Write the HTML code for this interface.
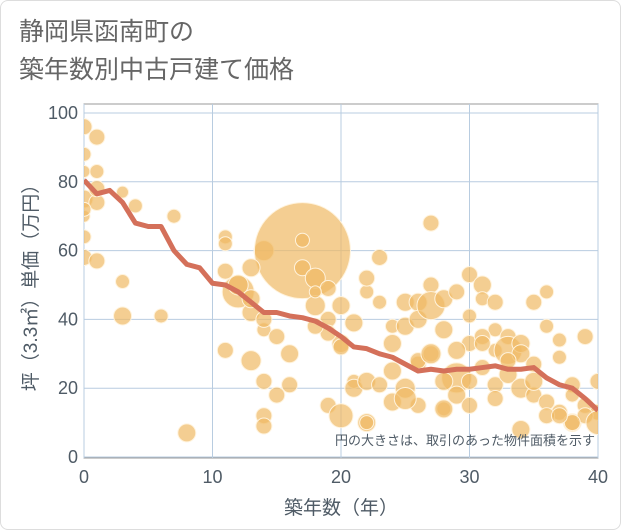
<!DOCTYPE html>
<html><head><meta charset="utf-8"><style>
body{margin:0;background:#fff}
#wrap{position:relative;width:619px;height:528px;border:1px solid #ddd;border-radius:8px;background:#fff;overflow:hidden;font-family:"Liberation Sans","Noto Sans CJK JP",sans-serif}
#title{position:absolute;left:18px;top:12px;font-size:25px;line-height:38px;color:#666}
</style></head><body>
<div id="wrap">
<div id="title">静岡県函南町の<br>築年数別中古戸建て価格</div>
<svg id="chart" width="619" height="528" style="position:absolute;left:0;top:0"></svg>
</div>
<script>
const xTicks=[0,10,20,30,40];
const yTicks=[0,20,40,60,80,100];
const trendYears=[0,1,2,3,4,5,6,7,8,9,10,11,12,13,14,15,16,17,18,19,20,21,22,23,24,25,26,27,28,29,30,31,32,33,34,35,36,37,38,39,40];
const trendValues=[80.5,76.5,77.5,74,68,67,67,60,56,55,50.5,50,48,45,42,42,41,40.5,39.5,37.5,35,32,31.5,30,29,27,25,25.5,25,25.5,25.5,26,26.5,25.5,25.5,26,23,21,20,17,13.5];
const bubbleX=[0,0,0,0,0,0,0,1,1,1,0,1,3,4,7,1,3,6,3,11,11,11,11,12,13,13,14,14,17,17,17,18,18,19,18,19,20,20,21,21,22,22,23,23,24,24,25,25,26,26,26,27,27,27,28,28,29,29,30,30,30,31,31,32,32,32,33,33,34,34,35,35,36,36,37,37,38,38,39,39,40,40,12,13,14,15,16,16,14,14,15,19,19,20,21,22,23,24,25,26,27,28,29,30,31,32,33,34,35,36,37,38,39,40,8,14,20,22,24,26,28,30,32,34,36,38,25,27,29,31,33,35,37,13,18,22,28,31];
const bubbleY=[96,88,83,75,70,64,58,93,83,74,72,57,51,73,70,78,41,41,77,64,62,54,31,48,42,28,60,37,60,63,55,52,44,49,48,40,44,33,39,22,48,52,58,45,33,38,38,45,45,27,40,50,44,68,37,46,48,23,53,41,33,50,46,45,37,31,35,31,33,30,45,27,48,38,34,29,21,18,35,15,22,13,50,46,40,35,30,21,22,12,18,15,36,32,20,22,21,25,20,28,30,14,18,22,26,21,24,20,18,16,13,10,12,10,7,9,12,10,16,15,14,15,17,8,12,10,17,30,31,35,28,22,12,55,38,10,22,33];
const bubbleR=[8,7,6,9,6,7,8,8,7,8,7,8,7,7,7,8,9,7,6,7,7,8,8,16,9,10,10,7,48,7,8,10,10,8,6,8,9,9,9,7,7,8,8,7,9,7,9,9,9,8,9,8,14,8,9,9,8,15,8,7,8,9,7,8,7,7,8,14,9,9,8,8,7,7,7,7,8,7,8,8,8,8,10,9,8,8,9,8,8,8,8,8,8,8,9,9,8,9,10,8,8,7,9,8,8,8,9,10,8,8,8,9,8,12,9,8,12,9,9,8,9,8,8,9,8,8,11,10,9,8,8,9,8,9,8,7,9,8];
const svg=document.getElementById('chart');
const NS='http://www.w3.org/2000/svg';
const L=83,R=597,T=103,B=457;
const sx=v=>L+v*(R-L)/40;
const sy=v=>456-v*3.44;
function mk(t,a,p){const e=document.createElementNS(NS,t);for(const k in a)e.setAttribute(k,a[k]);(p||svg).appendChild(e);return e;}
let e;
e=mk('rect',{x:L,y:T,width:R-L,height:B-T,fill:'#fff',stroke:'#999','stroke-width':1});


xTicks.forEach(v=>{
 e=mk('line',{x1:sx(v),x2:sx(v),y1:T,y2:B,stroke:'#b8cce0','stroke-width':1});
 
 
 e=mk('text',{x:sx(v),y:482,'text-anchor':'middle','font-size':18,fill:'#4f5b66'});
 e.textContent=v;
 
 
});
yTicks.forEach(v=>{
 e=mk('line',{x1:L,x2:R,y1:sy(v),y2:sy(v),stroke:'#b8cce0','stroke-width':1});
 
 
 e=mk('text',{x:77,y:sy(v)+6,'text-anchor':'end','font-size':18,fill:'#4f5b66'});
 e.textContent=v;
 
 
});
const clip=mk('clipPath',{id:'pc'});mk('rect',{x:L,y:T,width:R-L,height:B-T},clip);
const g=mk('g',{'clip-path':'url(#pc)'});


bubbleX.forEach((x,i)=>{
 e=mk('circle',{cx:sx(x),cy:sy(bubbleY[i]),r:bubbleR[i],fill:'rgba(240,185,100,0.7)',stroke:'#fff3dd','stroke-width':1},g);
 
 
});
e=mk('polyline',{points:trendYears.map((x,i)=>sx(x)+','+sy(trendValues[i])).join(' '),fill:'none',stroke:'#d4705a','stroke-width':5,'stroke-linejoin':'round'},g);


e=mk('text',{x:594,y:444,'text-anchor':'end','font-size':13,fill:'#4f5b66'});
e.textContent='円の大きさは、取引のあった物件面積を示す';


e=mk('text',{x:340,y:513,'text-anchor':'middle','font-size':19,fill:'#4f5b66'});
e.textContent='築年数（年）';


e=mk('text',{x:0,y:0,'text-anchor':'middle','font-size':19,fill:'#4f5b66',transform:'translate(36,282) rotate(-90)'});
e.textContent='坪（3.3㎡）単価（万円）';


</script>
</body></html>
